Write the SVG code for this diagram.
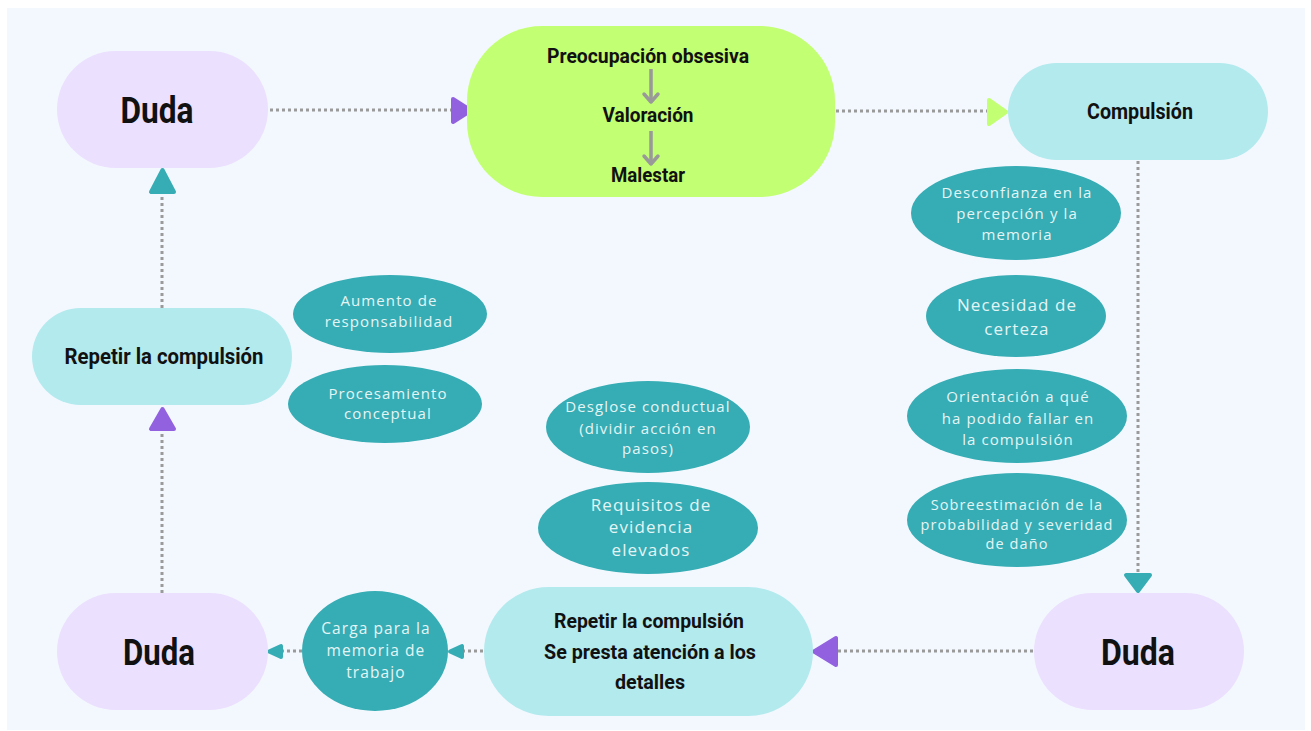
<svg xmlns="http://www.w3.org/2000/svg" width="1311" height="731" viewBox="0 0 1311 731">
<style>
.title{font-family:Roboto,"Liberation Sans",sans-serif;font-weight:700;fill:#111111;text-anchor:middle}
.el{fill:#36ACB4}
.et{font-family:"Open Sans","Noto Sans",sans-serif;fill:#E4F5F6;text-anchor:middle;letter-spacing:1.1px}
.lav{fill:#EBE0FE}
.cy{fill:#B3EAEE}
.dot{stroke:#9A9A9A;stroke-width:3;stroke-dasharray:3 3;fill:none}
.head{stroke-linejoin:round;stroke-width:4}
</style>
<rect x="0" y="0" width="1311" height="731" fill="#FFFFFF"/>
<rect x="7" y="8" width="1298" height="722" fill="#F3F8FE"/>

<g id="connectors">
  <line class="dot" x1="270" y1="110" x2="452" y2="110"/>
  <path class="head" d="M453,99 L471,110.5 L453,122 Z" fill="#9161E0" stroke="#9161E0"/>
  <line class="dot" x1="836" y1="111" x2="988" y2="111"/>
  <path class="head" d="M989,100 L1006,112 L989,124 Z" fill="#C3FF72" stroke="#C3FF72"/>
  <line class="dot" x1="1138" y1="161" x2="1138" y2="572"/>
  <path class="head" d="M1126,575 L1150,575 L1138,591 Z" fill="#36ACB4" stroke="#36ACB4"/>
  <line class="dot" x1="1033" y1="651" x2="836" y2="651"/>
  <path class="head" d="M836,638 L836,665 L814,651.5 Z" fill="#9161E0" stroke="#9161E0"/>
  <line class="dot" x1="483" y1="651" x2="463" y2="651"/>
  <path class="head" d="M462,646 L462,657 L450,651.5 Z" fill="#36ACB4" stroke="#36ACB4"/>
  <line class="dot" x1="302" y1="651" x2="282" y2="651"/>
  <path class="head" d="M281,646 L281,657 L269,651.5 Z" fill="#36ACB4" stroke="#36ACB4"/>
  <line class="dot" x1="162" y1="593" x2="162" y2="431"/>
  <path class="head" d="M151,429 L174,429 L162.5,409 Z" fill="#9161E0" stroke="#9161E0"/>
  <line class="dot" x1="162" y1="308" x2="162" y2="194"/>
  <path class="head" d="M151,192 L174,192 L162.5,170 Z" fill="#36ACB4" stroke="#36ACB4"/>
</g>

<g id="duda-top">
  <rect class="lav" x="57" y="51" width="211" height="117" rx="58.5"/>
  <text class="title" x="157" y="123" font-size="36" textLength="73" lengthAdjust="spacingAndGlyphs">Duda</text>
</g>

<g id="obsesion">
  <rect x="467" y="26" width="368" height="171" rx="75" fill="#C3FF72"/>
  <text class="title" x="648" y="63" font-size="20.5" textLength="202" lengthAdjust="spacingAndGlyphs">Preocupación obsesiva</text>
  <line x1="651" y1="69" x2="651" y2="102" stroke="#999999" stroke-width="3.5"/>
  <polyline points="644,94 651,102 658,94" fill="none" stroke="#999999" stroke-width="3.5" stroke-linecap="round" stroke-linejoin="round"/>
  <text class="title" x="648" y="122" font-size="20.5" textLength="91" lengthAdjust="spacingAndGlyphs">Valoración</text>
  <line x1="651" y1="131" x2="651" y2="164" stroke="#999999" stroke-width="3.5"/>
  <polyline points="644,156 651,164 658,156" fill="none" stroke="#999999" stroke-width="3.5" stroke-linecap="round" stroke-linejoin="round"/>
  <text class="title" x="648" y="182" font-size="20.5" textLength="74" lengthAdjust="spacingAndGlyphs">Malestar</text>
</g>

<g id="compulsion">
  <rect class="cy" x="1008" y="63" width="260" height="97" rx="48.5"/>
  <text class="title" x="1140" y="119" font-size="21.5" textLength="106" lengthAdjust="spacingAndGlyphs">Compulsión</text>
</g>

<g id="repetir-izq">
  <rect class="cy" x="32" y="308" width="260" height="97" rx="48.5"/>
  <text class="title" x="164" y="364" font-size="21.5" textLength="199" lengthAdjust="spacingAndGlyphs">Repetir la compulsión</text>
</g>

<g id="duda-bl">
  <rect class="lav" x="57" y="593" width="211" height="117" rx="58.5"/>
  <text class="title" x="159" y="665" font-size="36" textLength="72" lengthAdjust="spacingAndGlyphs">Duda</text>
</g>

<g id="duda-br">
  <rect class="lav" x="1034" y="593" width="210" height="117" rx="58.5"/>
  <text class="title" x="1138" y="665" font-size="36" textLength="74" lengthAdjust="spacingAndGlyphs">Duda</text>
</g>

<g id="repetir-detalles">
  <rect class="cy" x="484" y="587" width="329" height="129" rx="64.5"/>
  <text class="title" x="649" y="628" font-size="20.5" textLength="190" lengthAdjust="spacingAndGlyphs">Repetir la compulsión</text>
  <text class="title" x="650" y="659" font-size="20.5" textLength="212" lengthAdjust="spacingAndGlyphs">Se presta atención a los</text>
  <text class="title" x="650" y="689" font-size="20.5" textLength="70" lengthAdjust="spacingAndGlyphs">detalles</text>
</g>

<g id="carga">
  <ellipse class="el" cx="375" cy="651" rx="73" ry="60"/>
  <text class="et" font-size="15.5"><tspan x="376" y="634">Carga para la</tspan><tspan x="376" y="656">memoria de</tspan><tspan x="376" y="678">trabajo</tspan></text>
</g>

<g id="aumento">
  <ellipse class="el" cx="390" cy="314" rx="97" ry="39"/>
  <text class="et" font-size="15"><tspan x="389" y="306">Aumento de</tspan><tspan x="389" y="327">responsabilidad</tspan></text>
</g>

<g id="procesamiento">
  <ellipse class="el" cx="385" cy="404" rx="97" ry="39"/>
  <text class="et" font-size="15"><tspan x="388" y="399">Procesamiento</tspan><tspan x="388" y="419">conceptual</tspan></text>
</g>

<g id="desglose">
  <ellipse class="el" cx="648" cy="427" rx="102" ry="46"/>
  <text class="et" font-size="15"><tspan x="648" y="412">Desglose conductual</tspan><tspan x="648" y="434">(dividir acción en</tspan><tspan x="648" y="454">pasos)</tspan></text>
</g>

<g id="requisitos">
  <ellipse class="el" cx="648" cy="528" rx="110" ry="46"/>
  <text class="et" font-size="17"><tspan x="651" y="511">Requisitos de</tspan><tspan x="651" y="533">evidencia</tspan><tspan x="651" y="556">elevados</tspan></text>
</g>

<g id="desconfianza">
  <ellipse class="el" cx="1016" cy="213" rx="105" ry="47"/>
  <text class="et" font-size="15"><tspan x="1017" y="198">Desconfianza en la</tspan><tspan x="1017" y="219">percepción y la</tspan><tspan x="1017" y="240">memoria</tspan></text>
</g>

<g id="necesidad">
  <ellipse class="el" cx="1016" cy="316" rx="90" ry="41"/>
  <text class="et" font-size="17"><tspan x="1017" y="311">Necesidad de</tspan><tspan x="1017" y="335">certeza</tspan></text>
</g>

<g id="orientacion">
  <ellipse class="el" cx="1017" cy="416" rx="110" ry="47"/>
  <text class="et" font-size="15"><tspan x="1018" y="402">Orientación a qué</tspan><tspan x="1018" y="424">ha podido fallar en</tspan><tspan x="1018" y="445">la compulsión</tspan></text>
</g>

<g id="sobreestimacion">
  <ellipse class="el" cx="1017" cy="520" rx="110" ry="47"/>
  <text class="et" font-size="14.5"><tspan x="1017" y="510">Sobreestimación de la</tspan><tspan x="1017" y="530">probabilidad y severidad</tspan><tspan x="1017" y="549">de daño</tspan></text>
</g>
</svg>
